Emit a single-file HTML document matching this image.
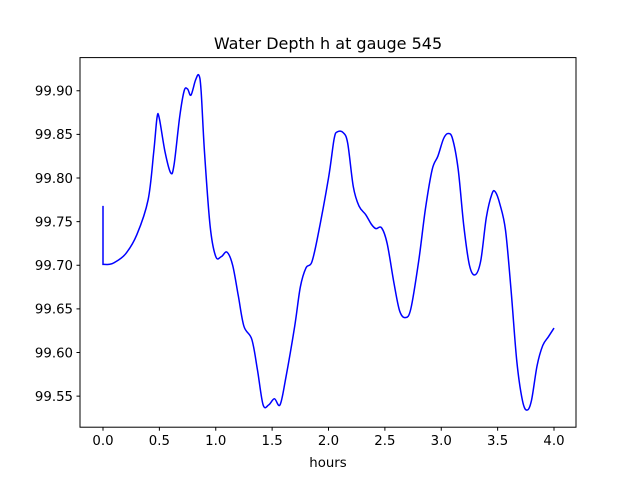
<!DOCTYPE html>
<html><head><meta charset="utf-8"><style>
body{margin:0;background:#fff;}
svg text{font-family:"DejaVu Sans","Liberation Sans",sans-serif;fill:#000;}
</style></head><body>
<svg id="chart" width="640" height="480" xmlns="http://www.w3.org/2000/svg">
<rect width="640" height="480" fill="#fff"/>
<text x="328" y="49" font-size="16" text-anchor="middle">Water Depth h at gauge 545</text>
<g id="plot"></g>
<rect x="80" y="57.6" width="496" height="369.6" fill="none" stroke="#000" stroke-width="1"/>
<text x="328" y="467" font-size="13.3" text-anchor="middle">hours</text>
</svg>
<script>
const xs=[0.0,0.0,0.05,0.1,0.2,0.3,0.4,0.45,0.48,0.5,0.55,0.6,0.63,0.68,0.72,0.75,0.78,0.82,0.85,0.87,0.9,0.95,1.0,1.05,1.1,1.15,1.2,1.25,1.32,1.37,1.42,1.47,1.52,1.57,1.62,1.7,1.75,1.8,1.85,1.9,2.0,2.05,2.08,2.13,2.17,2.22,2.27,2.33,2.38,2.42,2.47,2.52,2.58,2.63,2.68,2.73,2.8,2.86,2.92,2.97,3.02,3.06,3.1,3.15,3.2,3.25,3.3,3.35,3.4,3.45,3.48,3.52,3.57,3.62,3.67,3.72,3.76,3.8,3.85,3.9,3.95,4.0];
const ys=[99.768,99.701,99.701,99.703,99.713,99.735,99.775,99.83,99.870,99.868,99.83,99.806,99.815,99.87,99.900,99.902,99.895,99.912,99.918,99.90,99.83,99.745,99.710,99.710,99.715,99.70,99.665,99.63,99.615,99.58,99.540,99.540,99.547,99.540,99.57,99.63,99.675,99.697,99.703,99.73,99.80,99.845,99.853,99.852,99.84,99.79,99.768,99.758,99.747,99.742,99.743,99.725,99.68,99.648,99.640,99.65,99.705,99.765,99.81,99.825,99.845,99.851,99.845,99.81,99.745,99.700,99.689,99.705,99.755,99.782,99.784,99.77,99.74,99.67,99.59,99.545,99.534,99.545,99.585,99.608,99.618,99.628];
const xTicks=[0.0,0.5,1.0,1.5,2.0,2.5,3.0,3.5,4.0];
const yTicks=[99.55,99.60,99.65,99.70,99.75,99.80,99.85,99.90];
const NS="http://www.w3.org/2000/svg";
const X0=80,X1=576,Y0=427.2,Y1=57.6;
const xmin=-0.204,xmax=4.195,ymin=99.5144,ymax=99.938;
function sx(v){return X0+(v-xmin)/(xmax-xmin)*(X1-X0);}
function sy(v){return Y0-(v-ymin)/(ymax-ymin)*(Y0-Y1);}
const g=document.getElementById('plot');
function mk(t,a){const e=document.createElementNS(NS,t);for(const k in a)e.setAttribute(k,a[k]);g.appendChild(e);return e;}
xTicks.forEach(v=>{
  const l=mk('line',{x1:sx(v),x2:sx(v),y1:Y0,y2:Y0+3.5,stroke:'#000'});
  
  
  const t=mk('text',{x:sx(v),y:Y0+18,'font-size':'13.3','text-anchor':'middle'});
  t.textContent=v.toFixed(1);
  
  
});
yTicks.forEach(v=>{
  const l=mk('line',{x1:X0-3.5,x2:X0,y1:sy(v),y2:sy(v),stroke:'#000'});
  
  
  const t=mk('text',{x:X0-7,y:sy(v)+4.8,'font-size':'13.3','text-anchor':'end'});
  t.textContent=v.toFixed(2);
  
  
});
const pts=xs.map((x,i)=>[sx(x),sy(ys[i])]);
let d='M'+pts[0][0]+','+pts[0][1]+' L'+pts[1][0]+','+pts[1][1];
for(let i=1;i<pts.length-1;i++){
  const p0=pts[Math.max(i-1,1)],p1=pts[i],p2=pts[i+1],p3=pts[Math.min(i+2,pts.length-1)];
  const c1=[p1[0]+(p2[0]-p0[0])/6,p1[1]+(p2[1]-p0[1])/6];
  const c2=[p2[0]-(p3[0]-p1[0])/6,p2[1]-(p3[1]-p1[1])/6];
  d+=' C'+c1+' '+c2+' '+p2;
}
const line=mk('path',{d:d,fill:'none',stroke:'#0000ff','stroke-width':'1.5'});


</script>
</body></html>
